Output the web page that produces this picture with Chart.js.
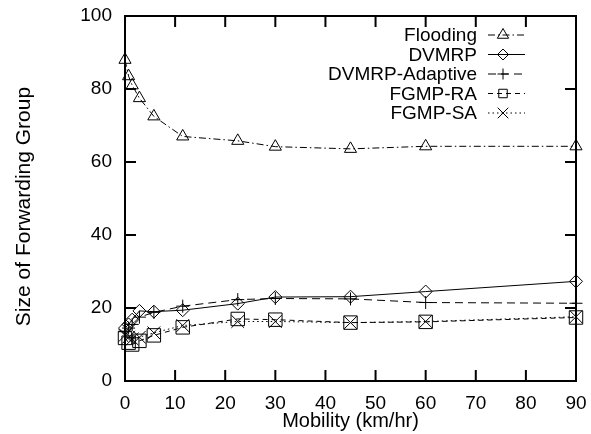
<!DOCTYPE html>
<html>
<head>
<meta charset="utf-8">
<script src="https://cdn.jsdelivr.net/npm/chart.js@4/dist/chart.umd.min.js"></script>
<style>
  html, body { margin: 0; padding: 0; background: #fff; }
  #wrap { width: 591px; height: 434px; }
</style>
</head>
<body>
<div id="wrap"><canvas id="c" width="591" height="434"></canvas></div>
<script>
// ---- data ----
const mobility = [0, 0.72, 1.44, 2.88, 5.76, 11.52, 22.5, 30, 45, 60, 90];
const flooding = [88, 83.5, 81, 77.5, 72.5, 67, 65.8, 64.2, 63.6, 64.3, 64.3];
const dvmrp = [14.5, 15.5, 16.8, 19.2, 19, 19.4, 21.2, 23, 23.1, 24.5, 27.3];
const dvmrpAdaptive = [13.5, 14.5, 15.5, 17.5, 18.8, 20.5, 22.3, 22.6, 22.5, 21.5, 21.3];
const fgmpRA = [11.8, 10.5, 10, 11, 12.5, 14.7, 17, 16.8, 16, 16.2, 17.4];
const fgmpSA = [12.5, 12, 11.5, 12, 13.2, 15.2, 16.3, 16.3, 16, 16.3, 17.6];
const seriesNames = ['Flooding', 'DVMRP', 'DVMRP-Adaptive', 'FGMP-RA', 'FGMP-SA'];
const xTicks = [0, 10, 20, 30, 40, 50, 60, 70, 80, 90];
const yTicks = [0, 20, 40, 60, 80, 100];
const xTitle = 'Mobility (km/hr)';
const yTitle = 'Size of Forwarding Group';

const FONT = 'Liberation Sans, Arial, Helvetica, sans-serif';
const toPts = arr => arr.map((v, i) => ({ x: mobility[i], y: v }));

const styles = [
  { pointStyle: 'triangle', pointRadius: 7, legendRadius: 6.5, borderDash: [7, 3, 1.5, 3] },
  { pointStyle: 'rectRot', pointRadius: 6.5, legendRadius: 5.5, borderDash: [] },
  { pointStyle: 'cross', pointRadius: 6.5, legendRadius: 5.5, borderDash: [8, 5] },
  { pointStyle: 'rect', pointRadius: 9.5, legendRadius: 6, borderDash: [5, 4] },
  { pointStyle: 'crossRot', pointRadius: 9, legendRadius: 7.5, borderDash: [1.5, 3] }
];
const values = [flooding, dvmrp, dvmrpAdaptive, fgmpRA, fgmpSA];

const datasets = values.map((vals, i) => ({
  label: seriesNames[i],
  data: toPts(vals),
  borderColor: '#000',
  backgroundColor: 'rgba(0,0,0,0)',
  borderWidth: 1,
  borderDash: styles[i].borderDash,
  pointStyle: styles[i].pointStyle,
  pointRadius: styles[i].pointRadius,
  pointBorderWidth: 1,
  pointBorderColor: '#000',
  pointBackgroundColor: 'rgba(0,0,0,0)',
  tension: 0,
  clip: false,
  fill: false
}));

function zeroPad(s) { s.paddingTop = 0; s.paddingBottom = 0; s.paddingLeft = 0; s.paddingRight = 0; }

const frame = {
  id: 'frame',
  afterDraw(chart) {
    const ctx = chart.ctx;
    const a = chart.chartArea;
    const xs = chart.scales.x, ys = chart.scales.y;
    ctx.save();
    ctx.strokeStyle = '#000';
    ctx.lineWidth = 2;
    ctx.setLineDash([]);
    ctx.strokeRect(a.left, a.top, a.right - a.left, a.bottom - a.top);
    const tl = 11;
    ctx.beginPath();
    xTicks.forEach(v => {
      const px = xs.getPixelForValue(v);
      ctx.moveTo(px, a.bottom); ctx.lineTo(px, a.bottom - tl);
      ctx.moveTo(px, a.top); ctx.lineTo(px, a.top + tl);
    });
    yTicks.forEach(v => {
      const py = ys.getPixelForValue(v);
      ctx.moveTo(a.left, py); ctx.lineTo(a.left + tl, py);
      ctx.moveTo(a.right, py); ctx.lineTo(a.right - tl, py);
    });
    ctx.stroke();

    // y axis title
    ctx.save();
    ctx.translate(24, (a.top + a.bottom) / 2 + 8);
    ctx.rotate(-Math.PI / 2);
    ctx.font = '21px ' + FONT;
    ctx.fillStyle = '#000';
    ctx.textAlign = 'center';
    ctx.textBaseline = 'middle';
    ctx.fillText(yTitle, 0, 0);
    ctx.restore();

    // legend
    ctx.font = '19px ' + FONT;
    ctx.textAlign = 'right';
    ctx.textBaseline = 'middle';
    chart.data.datasets.forEach((ds, i) => {
      const y = a.top + 19 + i * 19.5;
      ctx.fillStyle = '#000';
      ctx.fillText(ds.label, 477, y + 1);
      ctx.lineWidth = 1;
      ctx.setLineDash(ds.borderDash);
      ctx.beginPath();
      ctx.moveTo(488, y); ctx.lineTo(525, y);
      ctx.stroke();
      ctx.setLineDash([]);
      ctx.fillStyle = 'rgba(0,0,0,0)';
      Chart.helpers.drawPoint(ctx, {
        pointStyle: ds.pointStyle, radius: styles[i].legendRadius, rotation: 0, borderWidth: 1
      }, 503, y);
    });
    ctx.restore();
  }
};

new Chart(document.getElementById('c'), {
  type: 'line',
  data: { datasets },
  plugins: [frame],
  options: {
    responsive: false,
    animation: false,
    layout: { padding: { top: 16, right: 15, left: 0, bottom: 0 } },
    plugins: { legend: { display: false }, tooltip: { enabled: false } },
    scales: {
      x: {
        type: 'linear', min: 0, max: 90,
        afterFit(s) { s.height = 53; zeroPad(s); },
        afterBuildTicks(s) { s.ticks = xTicks.map(v => ({ value: v })); },
        grid: { display: false, drawTicks: false },
        border: { display: false },
        ticks: { color: '#000', font: { family: FONT, size: 19 }, padding: 11, maxRotation: 0 },
        title: { display: true, text: xTitle, color: '#000',
                 font: { family: FONT, size: 20 }, padding: { top: 0, bottom: 1 } }
      },
      y: {
        min: 0, max: 100,
        afterFit(s) { s.width = 125; zeroPad(s); },
        afterBuildTicks(s) { s.ticks = yTicks.map(v => ({ value: v })); },
        grid: { display: false, drawTicks: false },
        border: { display: false },
        ticks: { color: '#000', font: { family: FONT, size: 19 }, padding: 13 },
        title: { display: false }
      }
    }
  }
});
</script>
</body>
</html>
